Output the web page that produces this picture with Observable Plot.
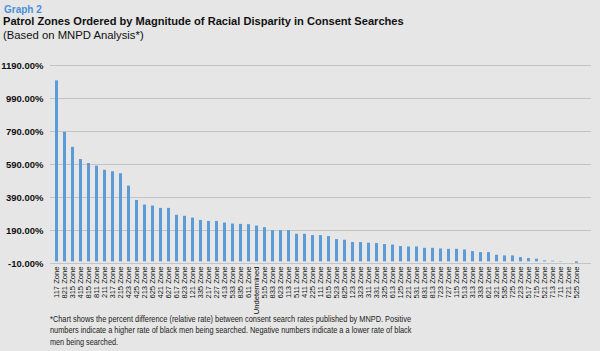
<!DOCTYPE html>
<html>
<head>
<meta charset="utf-8">
<script src="https://cdn.jsdelivr.net/npm/d3@7"></script>
<script src="https://cdn.jsdelivr.net/npm/@observablehq/plot@0.6"></script>
<style>
  html, body { margin: 0; padding: 0; }
  body { width: 600px; height: 351px; background: #e6e6e6; position: relative; overflow: hidden; font-family: "Liberation Sans", Arial, sans-serif; }
  #g2 { position: absolute; left: 4px; top: 4px; font-size: 10px; font-weight: bold; color: #4a90d9; }
  #title { position: absolute; left: 3px; top: 15px; font-size: 11.1px; font-weight: bold; color: #111; white-space: nowrap; }
  #sub { position: absolute; left: 3px; top: 28.5px; font-size: 11.3px; color: #111; white-space: nowrap; }
  #chart { position: absolute; left: 0; top: 52px; }
  #chart svg { overflow: visible; }
  #note { position: absolute; left: 0; top: 310px; }
</style>
</head>
<body>
<div id="g2">Graph 2</div>
<div id="title">Patrol Zones Ordered by Magnitude of Racial Disparity in Consent Searches</div>
<div id="sub">(Based on MNPD Analysis*)</div>
<div id="chart"></div>
<svg id="note" width="600" height="41" font-family="Liberation Sans, Arial, sans-serif" font-size="9.3" fill="#222">
  <text x="50" y="11.5" textLength="361" lengthAdjust="spacingAndGlyphs">*Chart shows the percent difference (relative rate) between consent search rates published by MNPD. Positive</text>
  <text x="50" y="23.2" textLength="361.5" lengthAdjust="spacingAndGlyphs">numbers indicate a higher rate of black men being searched. Negative numbers indicate a a lower rate of black</text>
  <text x="50" y="34.9" textLength="68" lengthAdjust="spacingAndGlyphs">men being searched.</text>
</svg>
<script>
const zones = ["117 Zone","821 Zone","315 Zone","415 Zone","815 Zone","811 Zone","211 Zone","317 Zone","215 Zone","423 Zone","425 Zone","213 Zone","625 Zone","421 Zone","627 Zone","617 Zone","823 Zone","121 Zone","335 Zone","217 Zone","227 Zone","413 Zone","533 Zone","835 Zone","611 Zone","Undetermined","515 Zone","833 Zone","623 Zone","113 Zone","511 Zone","411 Zone","225 Zone","111 Zone","615 Zone","523 Zone","825 Zone","123 Zone","323 Zone","311 Zone","331 Zone","325 Zone","613 Zone","125 Zone","221 Zone","531 Zone","831 Zone","813 Zone","723 Zone","727 Zone","115 Zone","513 Zone","313 Zone","333 Zone","621 Zone","321 Zone","535 Zone","725 Zone","223 Zone","517 Zone","715 Zone","521 Zone","713 Zone","711 Zone","721 Zone","525 Zone"];
const disparity = [1097,785,694,620,596,580,555,546,534,459,372,344,338,324,324,282,276,265,251,245,245,235,229,227,225,217,207,189,189,189,167,167,159,159,153,135,131,117,117,113,111,105,102,93,90,90,82,82,78,76,76,72,62,56,56,40,36,36,26,20,16,6,4,2,0,-9];
const yTicks = [-10,190,390,590,790,990,1190];

const data = zones.map((z, i) => ({zone: z, value: disparity[i]}));

const chart = Plot.plot({
  width: 600,
  height: 265,
  marginTop: 13,
  marginBottom: 54,
  marginLeft: 50,
  marginRight: 9,
  style: {fontFamily: "Liberation Sans, Arial, sans-serif", background: "transparent", color: "#111", overflow: "visible"},
  x: {domain: zones, paddingInner: 0.64, paddingOuter: 0.58, align: 0.3},
  y: {domain: [-10, 1190]},
  marks: [
    Plot.ruleY(yTicks, {stroke: "#c4c4c4", strokeWidth: 1.2}),
    Plot.barY(data, {x: "zone", y: "value", fill: "#5b9bd8"}),
    Plot.axisY({ticks: yTicks, tickFormat: d => d.toFixed(2) + "%", tickSize: 0, tickPadding: 7, fontSize: 9.5, fontWeight: "bold", label: null}),
    Plot.axisX({tickRotate: -90, tickSize: 0, tickPadding: 3, fontSize: 7.6, label: null})
  ]
});
document.getElementById("chart").appendChild(chart);
</script>
</body>
</html>
